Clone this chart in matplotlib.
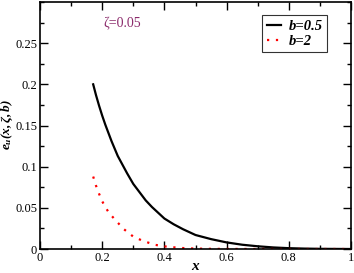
import matplotlib

matplotlib.use("Agg")
import matplotlib.pyplot as plt
from matplotlib.ticker import MultipleLocator

plt.rcParams["font.family"] = ["Liberation Serif", "DejaVu Serif"]
plt.rcParams["mathtext.fontset"] = "custom"
plt.rcParams["mathtext.rm"] = "Liberation Serif"
plt.rcParams["mathtext.it"] = "Liberation Serif:italic"
plt.rcParams["mathtext.bf"] = "Liberation Serif:bold:italic"

# b = 0.5 (solid black)
x_b05 = [0.171, 0.18, 0.19, 0.20, 0.21, 0.22, 0.23, 0.24, 0.25, 0.26, 0.27, 0.28,
         0.30, 0.32, 0.34, 0.36, 0.38, 0.40, 0.43, 0.46, 0.50, 0.55, 0.60, 0.65,
         0.70, 0.75, 0.80, 0.85, 0.90, 0.95, 1.0]
y_b05 = [0.200, 0.187, 0.174, 0.162, 0.151, 0.141, 0.131, 0.122, 0.113, 0.106, 0.099,
         0.092, 0.079, 0.069, 0.059, 0.051, 0.044, 0.037, 0.030, 0.024, 0.017, 0.012,
         0.0080, 0.0052, 0.0033, 0.0019, 0.0010, 0.0005, 0.0002, 0.0001, 0.0]

# b = 2 (dotted red)
x_b2 = [0.171, 0.18, 0.19, 0.20, 0.21, 0.22, 0.231, 0.25, 0.27, 0.30, 0.33, 0.35,
        0.371, 0.40, 0.45, 0.50, 0.55, 0.60, 0.70, 0.80, 0.90, 1.0]
y_b2 = [0.088, 0.077, 0.067, 0.058, 0.051, 0.045, 0.040, 0.032, 0.024, 0.015, 0.010,
        0.0075, 0.005, 0.0032, 0.0013, 0.0005, 0.0002, 0.0001, 0.0, 0.0, 0.0, 0.0]

fig = plt.figure(figsize=(3.54, 2.73), dpi=100)
ax = fig.add_axes([40 / 354, 24 / 273, 311 / 354, 247 / 273])

ax.plot(x_b05, y_b05, color="black", lw=1.6, label="b=0.5")
ax.plot(x_b2, y_b2, color="red", lw=1.6, ls=(0, (1, 3)), label="b=2")

ax.set_xlim(0, 1)
ax.set_ylim(0, 0.3)
ax.xaxis.set_minor_locator(MultipleLocator(0.1))
ax.yaxis.set_minor_locator(MultipleLocator(0.025))
ax.set_xticks([0, 0.2, 0.4, 0.6, 0.8, 1.0], ["0", "0.2", "0.4", "0.6", "0.8", "1"])
ax.set_yticks([0, 0.05, 0.1, 0.15, 0.2, 0.25], ["0", "0.05", "0.1", "0.15", "0.2", "0.25"])
ax.tick_params(which="both", direction="in", top=True, right=True, labelsize=9, pad=2)
ax.tick_params(which="major", length=6, width=1)
ax.tick_params(which="minor", length=3, width=1)
for s in ax.spines.values():
    s.set_linewidth(1.2)

# axis labels placed by hand so they stay inside the small canvas
fig.text(195 / 354, 1 - 266 / 273, "x", fontsize=11, fontweight="bold",
         fontstyle="italic", ha="center", va="center")
fig.text(7 / 354, 1 - 125 / 273, r"$\mathbf{e_u(x,\zeta,b)}$", fontsize=9.5,
         rotation=90, ha="center", va="center")

ax.text(0.203, 0.273, "ζ=0.05", color="#8b2a6b", fontsize=10, ha="left", va="center")

leg = ax.legend(loc="upper right", bbox_to_anchor=(0.923, 0.947), frameon=True,
                fancybox=False, edgecolor="black", handlelength=1.0, handletextpad=0.5,
                borderpad=0.3, labelspacing=0.15, borderaxespad=0,
                prop={"size": 10.5, "weight": "bold", "style": "italic"})
leg.get_frame().set_linewidth(0.8)

fig.savefig("out.png", dpi=100)
